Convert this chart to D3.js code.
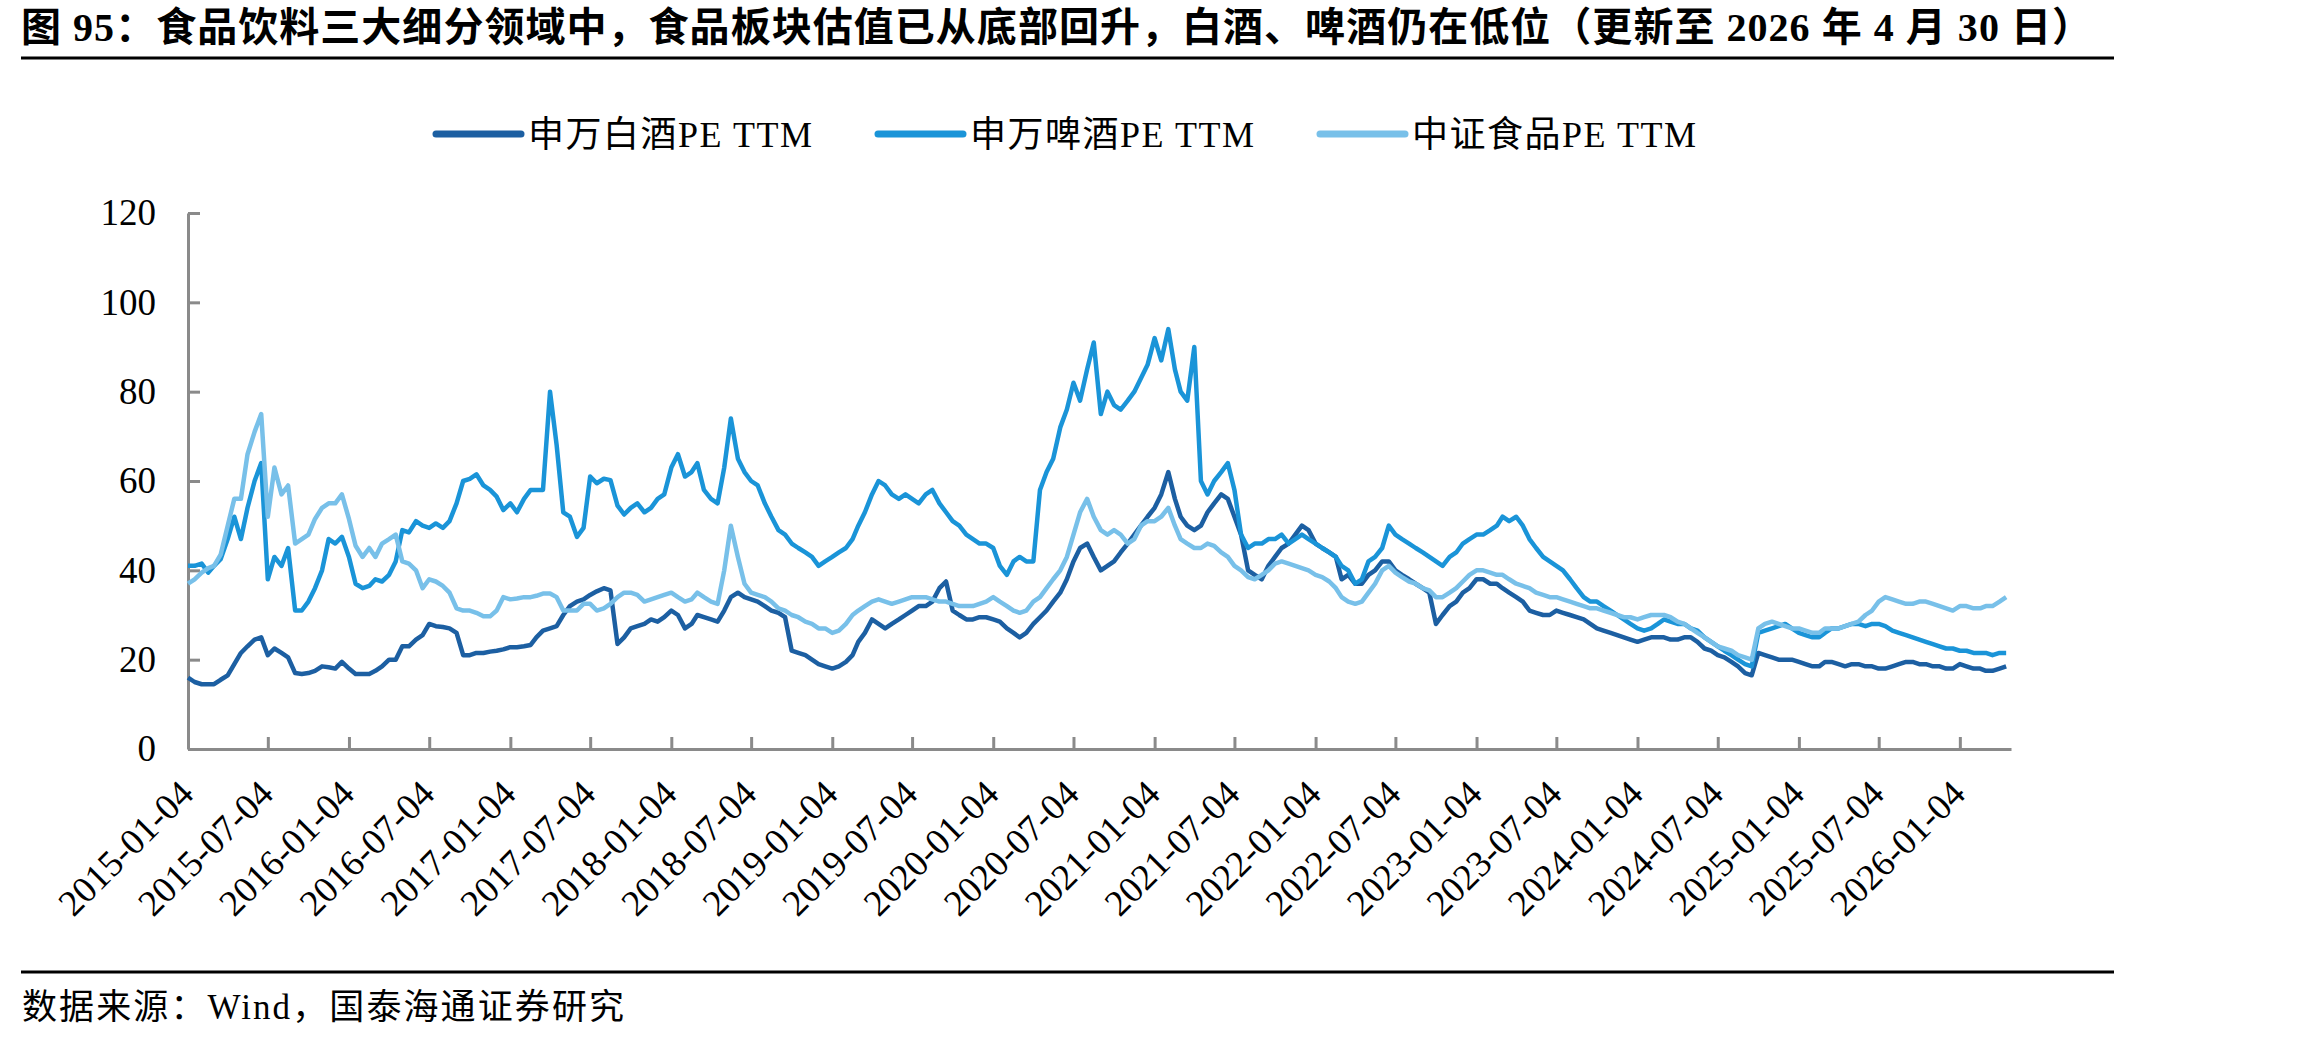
<!DOCTYPE html>
<html>
<head>
<meta charset="utf-8">
<script src="https://cdn.jsdelivr.net/npm/d3@7"></script>
<style>
  body { margin: 0; background: #fff; }
  svg text { font-family: "Liberation Serif", "Times New Roman", "Noto Sans CJK SC", serif; fill: #000; }
</style>
</head>
<body>
<div id="chart"></div>
<script>
var titleText = "图 95：食品饮料三大细分领域中，食品板块估值已从底部回升，白酒、啤酒仍在低位（更新至 2026 年 4 月 30 日）";
var sourceText = "数据来源：Wind，国泰海通证券研究";

var seriesNames = ["申万白酒PE TTM", "申万啤酒PE TTM", "中证食品PE TTM"];
var seriesColors = ["#1c5fa2", "#1a94d8", "#78c0e9"];

var yTicks = [0, 20, 40, 60, 80, 100, 120];
var xTickLabels = ["2015-01-04", "2015-07-04", "2016-01-04", "2016-07-04", "2017-01-04", "2017-07-04",
    "2018-01-04", "2018-07-04", "2019-01-04", "2019-07-04", "2020-01-04", "2020-07-04",
    "2021-01-04", "2021-07-04", "2022-01-04", "2022-07-04", "2023-01-04", "2023-07-04",
    "2024-01-04", "2024-07-04", "2025-01-04", "2025-07-04", "2026-01-04"];
var startDate = "2015-01-04", endDate = "2026-04-30";

// values, two per month (around the 4th and the 19th), 2015-01 .. 2026-04
var baijiu = [
    16, 15, 14.5, 14.5, 14.5, 15.5, 16.5, 19, 21.5, 23, 24.5, 25, 21, 22.5, 21.5, 20.5, 17, 16.8, 17, 17.5, 18.5, 18.3, 18, 19.5,
    18, 16.8, 16.8, 16.8, 17.5, 18.5, 20, 20, 23, 23, 24.5, 25.5, 28, 27.5, 27.3, 27, 26, 21, 21, 21.5, 21.5, 21.8, 22, 22.3,
    22.8, 22.8, 23, 23.3, 25, 26.5, 27, 27.5, 30, 32, 33, 33.5, 34.5, 35.3, 36, 35.5, 23.5, 25, 27, 27.5, 28, 29, 28.5, 29.5,
    31, 30, 27, 28, 30, 29.5, 29, 28.5, 31, 34, 35, 34, 33.5, 33, 32, 31, 30.5, 29.5, 22, 21.5, 21, 20, 19, 18.5,
    18, 18.5, 19.5, 21, 24, 26, 29, 28, 27, 28, 29, 30, 31, 32, 32, 33, 36, 37.5, 31, 30, 29, 29, 29.5, 29.5,
    29, 28.5, 27, 26, 25, 26, 28, 29.5, 31, 33, 35, 38, 42, 45, 46, 43, 40, 41, 42, 44, 46, 48, 50, 52,
    54, 57, 62, 56, 52, 50, 49, 50, 53, 55, 57, 56, 52, 48, 40, 39, 38, 41, 43, 45, 46, 48, 50, 49,
    46, 45, 44, 43, 38, 39, 37, 37, 39, 40, 42, 42, 40, 39, 38, 37, 36, 35, 28, 30, 32, 33, 35, 36,
    38, 38, 37, 37, 36, 35, 34, 33, 31, 30.5, 30, 30, 31, 30.5, 30, 29.5, 29, 28, 27, 26.5, 26, 25.5, 25, 24.5,
    24, 24.5, 25, 25, 25, 24.5, 24.5, 25, 25, 24, 22.5, 22, 21, 20.5, 19.5, 18.5, 17, 16.5, 21.5, 21, 20.5, 20, 20, 20,
    19.5, 19, 18.5, 18.5, 19.5, 19.5, 19, 18.5, 19, 19, 18.5, 18.5, 18, 18, 18.5, 19, 19.5, 19.5, 19, 19, 18.5, 18.5, 18, 18,
    19, 18.5, 18, 18, 17.5, 17.5, 18, 18.5
];
var beer = [
    41, 41, 41.5, 39.5, 41, 42.5, 47, 52, 47, 54, 60, 64, 38, 43, 41, 45, 31, 31, 33, 36, 40, 47, 46, 47.5,
    43, 37, 36, 36.5, 38, 37.5, 39, 42, 49, 48.5, 51, 50, 49.5, 50.5, 49.5, 51, 55, 60, 60.5, 61.5, 59, 58, 56.5, 53.5,
    55, 53, 56, 58, 58, 58, 80, 68, 53, 52, 47.5, 49.5, 61, 59.5, 60.5, 60.2, 54.5, 52.5, 54, 55, 53, 54, 56, 57,
    63, 66, 61, 62, 64, 58, 56, 55, 63, 74, 65, 62, 60, 59, 55, 52, 49, 48, 46, 45, 44, 43, 41, 42,
    43, 44, 45, 47, 50, 53, 57, 60, 59, 57, 56, 57, 56, 55, 57, 58, 55, 53, 51, 50, 48, 47, 46, 46,
    45, 41, 39, 42, 43, 42, 42, 58, 62, 65, 72, 76, 82, 78, 85, 91, 75, 80, 77, 76, 78, 80, 83, 86,
    92, 87, 94, 85, 80, 78, 90, 60, 57, 60, 62, 64, 58, 48, 45, 46, 46, 47, 47, 48, 46, 47, 48, 47,
    46, 45, 44, 43, 41, 40, 37, 38, 42, 43, 45, 50, 48, 47, 46, 45, 44, 43, 42, 41, 43, 44, 46, 47,
    48, 48, 49, 50, 52, 51, 52, 50, 47, 45, 43, 42, 41, 40, 38, 36, 34, 33, 33, 32, 31, 30, 29, 28,
    27, 26.5, 27, 28, 29, 28.5, 28, 28, 27, 26.5, 25, 24, 23, 22, 21, 20, 19, 18.5, 26, 26.5, 27, 27.5, 28, 27,
    26, 25.5, 25, 25, 26, 27, 27, 27.5, 28, 28, 27.5, 28, 28, 27.5, 26.5, 26, 25.5, 25, 24.5, 24, 23.5, 23, 22.5, 22.5,
    22, 22, 21.5, 21.5, 21.5, 21, 21.5, 21.5
];
var food = [
    37, 38, 39.5, 40.5, 41, 43.5, 50, 56, 56, 66, 71, 75, 52, 63, 57, 59, 46, 47, 48, 51.5, 54, 55, 55, 57,
    51.5, 45.5, 43, 45, 43, 46, 47, 48, 42, 41.5, 40, 36, 38, 37.5, 36.5, 35, 31.5, 31, 31, 30.5, 29.7, 29.7, 31, 34,
    33.5, 33.7, 34, 34, 34.3, 34.8, 34.8, 34, 31, 31, 31, 32.5, 32.5, 31, 31.5, 32.5, 34, 35, 35, 34.5, 33, 33.5, 34, 34.5,
    35, 34, 33, 33.5, 35, 34, 33, 32.5, 40, 50, 43, 37, 35, 34.5, 34, 33, 31.5, 31, 30, 29.5, 28.5, 28, 27, 27,
    26, 26.5, 28, 30, 31, 32, 33, 33.5, 33, 32.5, 33, 33.5, 34, 34, 34, 33.5, 33, 33, 32.5, 32, 32, 32, 32.5, 33,
    34, 33, 32, 31, 30.5, 31, 33, 34, 36, 38, 40, 43, 48, 53, 56, 52, 49, 48, 49, 48, 46, 47, 50, 51,
    51, 52, 54, 50, 47, 46, 45, 45, 46, 45.5, 44, 43, 41, 40, 38.5, 38, 39, 40, 41.5, 42, 41.5, 41, 40.5, 40,
    39, 38.5, 37.5, 36, 34, 33, 32.5, 33, 35, 37, 40, 41, 39.5, 38.5, 37.5, 37, 36, 35.5, 34, 34, 35, 36, 37.5, 39,
    40, 40, 39.5, 39, 39, 38, 37, 36.5, 36, 35, 34.5, 34, 34, 33.5, 33, 32.5, 32, 31.5, 31.5, 31, 30.5, 30, 29.5, 29.5,
    29, 29.5, 30, 30, 30, 29.5, 28.5, 28, 27, 26, 25, 24, 23, 22.5, 22, 21, 20.5, 20, 27, 28, 28.5, 28, 27.5, 27,
    27, 26.5, 26, 26, 27, 27, 27, 27.5, 28, 28.5, 30, 31, 33, 34, 33.5, 33, 32.5, 32.5, 33, 33, 32.5, 32, 31.5, 31,
    32, 32, 31.5, 31.5, 32, 32, 33, 34
];
var seriesValues = [baijiu, beer, food];

var width = 2302, height = 1040;
var plot = { left: 188, right: 2011, top: 213, bottom: 749 };
var axisColor = "#8a8a8a";

var parseDate = d3.timeParse("%Y-%m-%d");
var sampleDays = [4, 19];
function sampleDate(i) {
    return new Date(2015, Math.floor(i / 2), sampleDays[i % 2]);
}

var svg = d3.select("#chart").append("svg")
    .attr("width", width)
    .attr("height", height);

// title and rules
svg.append("text")
    .attr("x", 21)
    .attr("y", 41)
    .attr("textLength", 2071)
    .attr("lengthAdjust", "spacing")
    .style("font-size", "40px")
    .style("font-weight", "bold")
    .text(titleText);

svg.append("line")
    .attr("x1", 21).attr("x2", 2114)
    .attr("y1", 58).attr("y2", 58)
    .style("stroke", "#000").style("stroke-width", 3);

svg.append("line")
    .attr("x1", 21).attr("x2", 2114)
    .attr("y1", 972).attr("y2", 972)
    .style("stroke", "#000").style("stroke-width", 3);

svg.append("text")
    .attr("x", 22)
    .attr("y", 1019)
    .attr("textLength", 602)
    .attr("lengthAdjust", "spacing")
    .style("font-size", "35px")
    .text(sourceText);

var x = d3.scaleTime()
    .domain([parseDate(startDate), parseDate(endDate)])
    .range([plot.left, plot.right]);

var y = d3.scaleLinear()
    .domain([0, 120])
    .range([plot.bottom, plot.top]);

// y axis, ticks pointing inwards
var yAxis = svg.append("g")
    .attr("transform", "translate(" + plot.left + ",0)")
    .call(d3.axisLeft(y).tickValues(yTicks).tickSize(-12).tickSizeOuter(0).tickPadding(32));

yAxis.selectAll("text")
    .style("font-size", "37px");

// x axis, half-year ticks
var xAxis = svg.append("g")
    .attr("transform", "translate(0," + plot.bottom + ")")
    .call(d3.axisBottom(x)
        .tickValues(xTickLabels.map(parseDate))
        .tickSize(-12)
        .tickSizeOuter(0)
        .tickFormat(d3.timeFormat("%Y-%m-%d")));

xAxis.selectAll("text")
    .attr("y", 0)
    .attr("dy", null)
    .attr("text-anchor", "end")
    .attr("transform", "translate(7,47) rotate(-45)")
    .style("font-size", "37px");

svg.selectAll(".domain, .tick line")
    .style("stroke", axisColor)
    .style("stroke-width", 3);

// lines
var line = d3.line()
    .x(function(d, i) { return x(sampleDate(i)); })
    .y(function(d) { return y(d); });

svg.append("g").selectAll("path")
    .data(seriesValues)
    .enter().append("path")
    .attr("d", line)
    .style("fill", "none")
    .style("stroke", function(d, i) { return seriesColors[i]; })
    .style("stroke-width", 4.5)
    .style("stroke-linejoin", "round");

// legend
var legend = svg.append("g");
var lx = 436, ly = 134;
seriesNames.forEach(function(name, i) {
    legend.append("line")
        .attr("x1", lx).attr("x2", lx + 85)
        .attr("y1", ly).attr("y2", ly)
        .style("stroke", seriesColors[i])
        .style("stroke-width", 7)
        .style("stroke-linecap", "round");

    legend.append("text")
        .attr("x", lx + 92)
        .attr("y", ly)
        .attr("dy", "0.36em")
        .attr("textLength", 284)
        .attr("lengthAdjust", "spacing")
        .style("font-size", "36px")
        .text(name);

    lx += 92 + 284 + 66;
});
</script>
</body>
</html>
